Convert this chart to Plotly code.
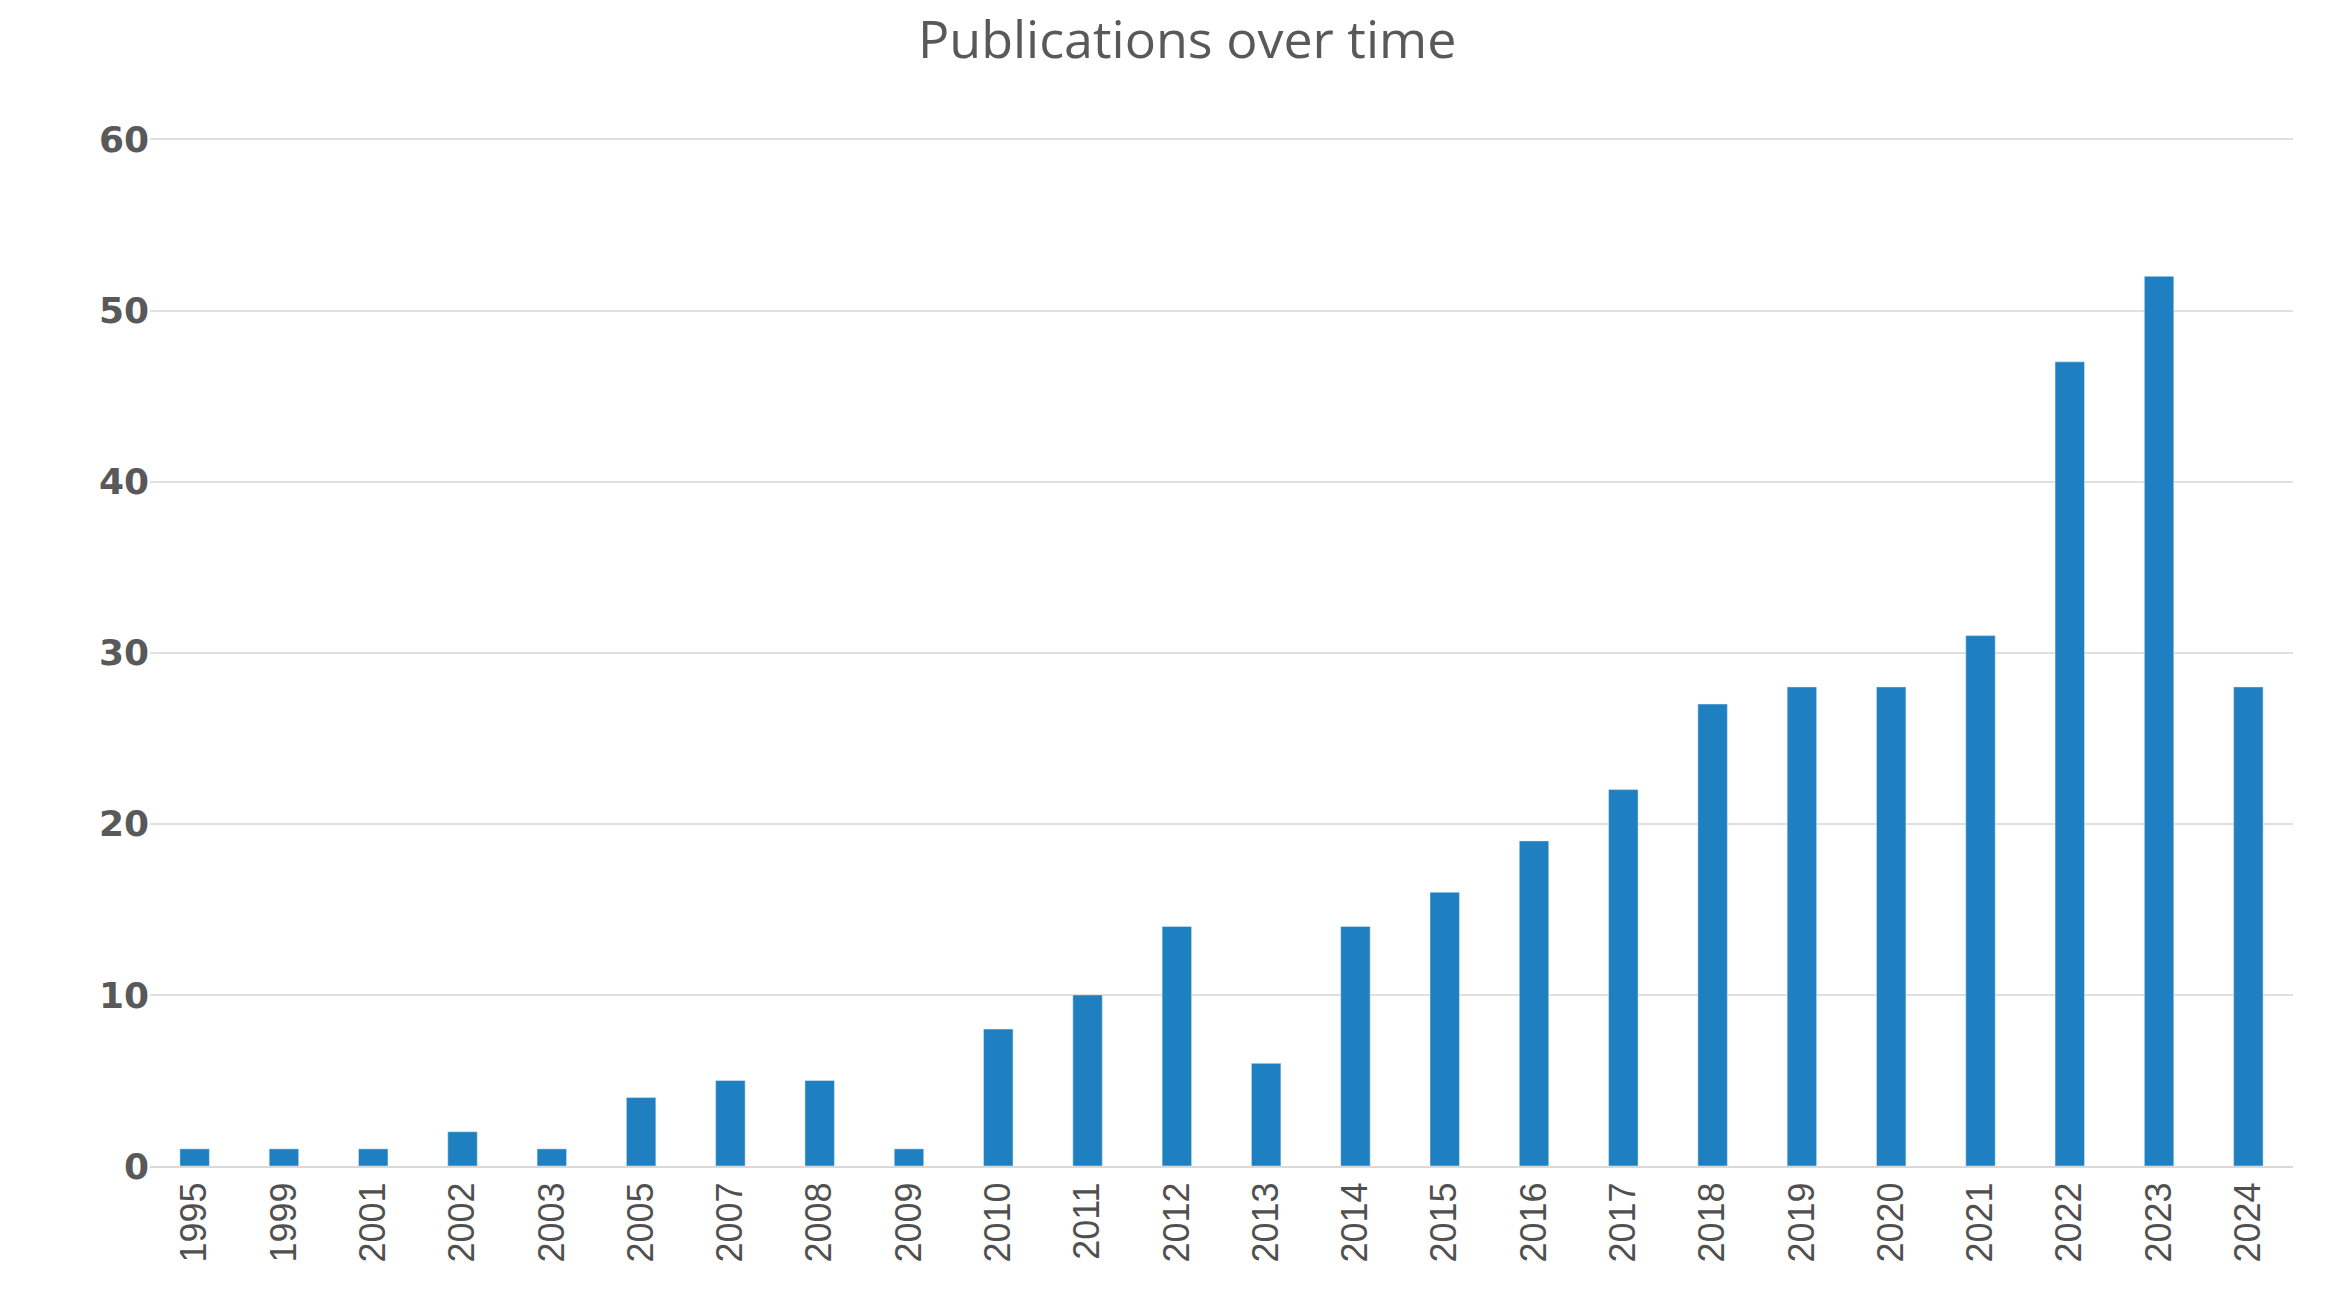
import plotly.graph_objects as go

years = ["1995","1999","2001","2002","2003","2005","2007","2008","2009","2010","2011","2012",
         "2013","2014","2015","2016","2017","2018","2019","2020","2021","2022","2023","2024"]
counts = [1,1,1,2,1,4,5,5,1,8,10,14,6,14,16,19,22,27,28,28,31,47,52,28]

fig = go.Figure(go.Bar(x=years, y=counts, marker_color="#1f80c1", width=0.33))
fig.update_layout(
    width=2335, height=1310,
    margin=dict(l=142, r=50, t=128, b=152),
    plot_bgcolor="white", paper_bgcolor="white",
    title=dict(text="Publications over time", x=0.505, xanchor="center", y=0.99, yanchor="top",
               font=dict(family="Open Sans", size=52, color="#595959")),
    showlegend=False,
)
fig.update_xaxes(type="category", tickangle=-90, showline=True, linecolor="#d9d9d9", linewidth=2,
                 tickfont=dict(family="Liberation Sans", size=36, color="#505050"), ticks="")
fig.update_yaxes(range=[0, 60.2], tickvals=[0,10,20,30,40,50,60], gridcolor="#e0e0e0", gridwidth=2,
                 zeroline=False,
                 tickfont=dict(family="DejaVu Sans", size=36, color="#595959", weight="bold"),
                 ticksuffix="     ")
fig.write_html("out.html")
